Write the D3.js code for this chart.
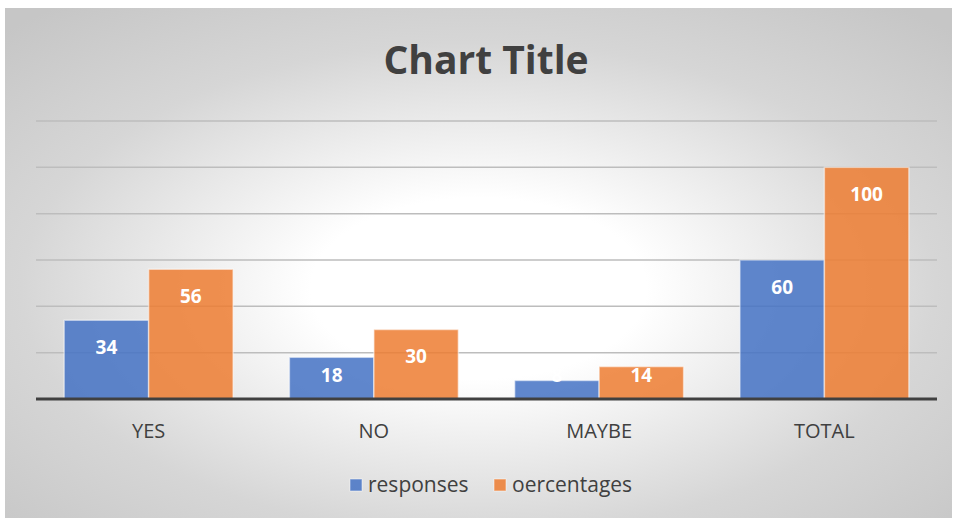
<!DOCTYPE html>
<html>
<head>
<meta charset="utf-8">
<script src="https://cdn.jsdelivr.net/npm/d3@7"></script>
<style>
  body { margin: 0; background: #fff; }
  text { font-family: "Open Sans", "Noto Sans", sans-serif; }
</style>
</head>
<body>
<div id="chart"></div>
<script>
// data
var categories = ["YES", "NO", "MAYBE", "TOTAL"];
var seriesNames = ["responses", "oercentages"];
var responses = [34, 18, 8, 60];
var oercentages = [56, 30, 14, 100];
var gridTicks = [0, 20, 40, 60, 80, 100, 120];

var colors = ["#4472c4", "#ed7d31"];

var total_width = 955, total_height = 521;
var plot = {left: 36, right: 937, top: 121, bottom: 399};

var svg = d3.select("#chart").append("svg")
    .attr("width", total_width)
    .attr("height", total_height);

// background gradient
var defs = svg.append("defs");
var grad = defs.append("radialGradient")
    .attr("id", "bg")
    .attr("cx", "0.5").attr("cy", "0.55").attr("r", "0.71");
grad.append("stop").attr("offset", "0").attr("stop-color", "#ffffff");
grad.append("stop").attr("offset", "0.25").attr("stop-color", "#ffffff");
grad.append("stop").attr("offset", "0.68").attr("stop-color", "#d6d6d6");
grad.append("stop").attr("offset", "1").attr("stop-color", "#c6c6c6");

svg.append("rect")
    .attr("x", 5).attr("y", 8)
    .attr("width", total_width - 8).attr("height", total_height - 11)
    .attr("fill", "url(#bg)");

// title
svg.append("text")
    .attr("x", 486).attr("y", 74)
    .attr("text-anchor", "middle")
    .attr("font-size", 39)
    .attr("font-weight", "bold")
    .attr("fill", "#404040")
    .text("Chart Title");

// scales
var x = d3.scaleBand()
    .domain(categories)
    .range([plot.left, plot.right])
    .paddingInner(0.25)
    .paddingOuter(0.125);

var xs = d3.scaleBand()
    .domain(seriesNames)
    .range([0, x.bandwidth()]);

var y = d3.scaleLinear()
    .domain([0, 120])
    .range([plot.bottom, plot.top]);

// gridlines
svg.append("g")
  .selectAll("line")
  .data(gridTicks.slice(1))
  .enter()
  .append("line")
    .attr("x1", plot.left).attr("x2", plot.right)
    .attr("y1", d => y(d)).attr("y2", d => y(d))
    .attr("stroke", "#bdbdbd")
    .attr("stroke-width", 1.5);

// flat list of bars
var bars = [];
categories.forEach(function(c, i) {
  bars.push({cat: c, s: seriesNames[0], v: responses[i], color: colors[0]});
  bars.push({cat: c, s: seriesNames[1], v: oercentages[i], color: colors[1]});
});

svg.append("g")
  .selectAll("rect")
  .data(bars)
  .enter()
  .append("rect")
    .attr("x", d => x(d.cat) + xs(d.s))
    .attr("y", d => y(d.v))
    .attr("width", xs.bandwidth())
    .attr("height", d => y(0) - y(d.v))
    .attr("fill", d => d.color)
    .attr("fill-opacity", 0.85)
    .attr("stroke", "#ffffff")
    .attr("stroke-opacity", 0.5)
    .attr("stroke-width", 1.5);

// data labels (inside end), pushed up so they stay above the axis
svg.append("g")
  .selectAll("text")
  .data(bars)
  .enter()
  .append("text")
    .attr("x", d => x(d.cat) + xs(d.s) + xs.bandwidth() / 2)
    .attr("y", d => Math.min(y(d.v) + 27, plot.bottom - 24))
    .attr("dy", "0.35em")
    .attr("text-anchor", "middle")
    .attr("font-size", 19)
    .attr("font-weight", "bold")
    .attr("fill", "#ffffff")
    .text(d => d.v);

// baseline + category axis
var xAxis = svg.append("g")
    .attr("transform", "translate(0," + plot.bottom + ")")
    .call(d3.axisBottom(x).tickSize(0).tickPadding(0));
xAxis.select(".domain")
    .attr("d", "M" + plot.left + ",0H" + plot.right)
    .attr("stroke", "#404040")
    .attr("stroke-width", 3);
xAxis.selectAll("text")
    .attr("y", 32)
    .attr("dy", "0.35em")
    .attr("font-size", 20)
    .attr("font-family", "Open Sans")
    .attr("fill", "#404040");

// legend
var legendItems = [
  {name: seriesNames[0], color: colors[0], x: 350},
  {name: seriesNames[1], color: colors[1], x: 494}
];
var legend = svg.append("g")
  .selectAll("g")
  .data(legendItems)
  .enter()
  .append("g")
    .attr("transform", d => "translate(" + d.x + ",485)");
legend.append("rect")
    .attr("x", 0).attr("y", -6)
    .attr("width", 12).attr("height", 12)
    .attr("fill", d => d.color)
    .attr("fill-opacity", 0.85)
    .attr("stroke", "#ffffff")
    .attr("stroke-opacity", 0.5);
legend.append("text")
    .attr("x", 18).attr("y", 0)
    .attr("dy", "0.35em")
    .attr("font-size", 21)
    .attr("fill", "#404040")
    .text(d => d.name);
</script>
</body>
</html>
